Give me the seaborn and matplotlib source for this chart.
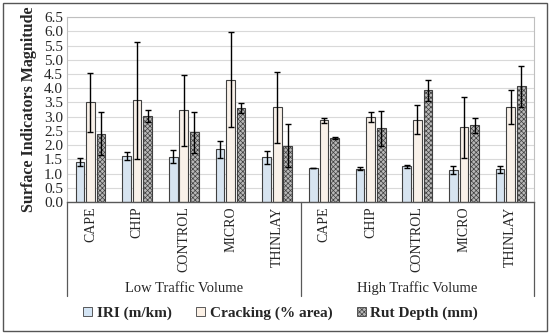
import pandas as pd
import seaborn as sns
import matplotlib.pyplot as plt
from matplotlib.patches import Patch, Rectangle

sns.set_style("white")
plt.rcParams['font.family'] = ['Liberation Serif', 'DejaVu Serif']
plt.rcParams['hatch.linewidth'] = 0.5
plt.rcParams['hatch.color'] = '#505050'

# Data
treatments = ["CAPE", "CHIP", "CONTROL", "MICRO", "THINLAY"]
volumes = ["Low Traffic Volume", "High Traffic Volume"]
metrics = ["IRI (m/km)", "Cracking (% area)", "Rut Depth (mm)"]

iri_mean = [1.40, 1.62, 1.60, 1.85, 1.57, 1.19, 1.17, 1.26, 1.14, 1.15]
iri_err = [0.15, 0.15, 0.22, 0.30, 0.22, 0.00, 0.05, 0.05, 0.14, 0.12]
crack_mean = [3.50, 3.57, 3.22, 4.30, 3.33, 2.87, 2.99, 2.90, 2.62, 3.35]
crack_err = [1.03, 2.07, 1.25, 1.68, 1.25, 0.08, 0.19, 0.52, 1.07, 0.60]
rut_mean = [2.40, 3.03, 2.45, 3.30, 1.98, 2.25, 2.59, 3.92, 2.69, 4.06]
rut_err = [0.75, 0.20, 0.73, 0.17, 0.75, 0.02, 0.61, 0.37, 0.26, 0.71]

keys = [f"{v}|{t}" for v in volumes for t in treatments]
rows = []
for m, means, errs in zip(metrics, [iri_mean, crack_mean, rut_mean], [iri_err, crack_err, rut_err]):
    for k, mu, e in zip(keys, means, errs):
        rows.append({"key": k, "metric": m, "value": mu, "err": e})
df = pd.DataFrame(rows)

colors = {"IRI (m/km)": "#d3e4f4", "Cracking (% area)": "#fcf1e6", "Rut Depth (mm)": "#b8b8b8"}

fig, ax = plt.subplots(figsize=(5.5, 3.34), dpi=100)
fig.subplots_adjust(left=0.122, right=0.971, top=0.949, bottom=0.395)

sns.barplot(data=df, x="key", y="value", hue="metric", order=keys, hue_order=metrics,
            palette=colors, width=0.68, gap=0.18, errorbar=None, edgecolor="#404040",
            linewidth=0.8, legend=False, ax=ax)

for cont, m in zip(ax.containers, metrics):
    sub = df[df.metric == m].set_index("key").loc[keys]
    xs = [b.get_x() + b.get_width() / 2 for b in cont]
    if m == "Rut Depth (mm)":
        for b in cont:
            b.set_hatch("xxxxxxx")
    ax.errorbar(xs, sub["value"].values, yerr=sub["err"].values, fmt="none",
                ecolor="black", elinewidth=1, capsize=2.2, capthick=1, zorder=5)

ax.set_ylim(0, 6.5)
ax.set_xlim(-0.5, len(keys) - 0.5)
ax.set_yticks([i * 0.5 for i in range(14)])
ax.set_yticklabels([f"{i * 0.5:.1f}" for i in range(14)], fontsize=11)
ax.yaxis.grid(True, color="#d9d9d9", linewidth=0.8)
ax.set_axisbelow(True)
ax.set_xticks(range(len(keys)))
ax.set_xticklabels([k.split("|")[1] for k in keys], rotation=90, fontsize=10)
ax.tick_params(axis="both", length=0, pad=3)
ax.set_xlabel("")
ax.set_ylabel("Surface Indicators Magnitude", fontsize=11.5, fontweight="bold", labelpad=5)
for s in ["top", "right", "left"]:
    ax.spines[s].set_color("#bfbfbf")
    ax.spines[s].set_linewidth(0.8)
ax.spines["bottom"].set_color("#595959")
ax.spines["bottom"].set_linewidth(1)

# group separators and labels
tr = ax.get_xaxis_transform()
for x in [-0.5, 4.5, 9.5]:
    ax.plot([x, x], [0, -0.505], transform=tr, clip_on=False, color="#595959", linewidth=0.9)
for i, v in enumerate(volumes):
    ax.text(2 + 5 * i, -0.465, v, transform=tr, ha="center", va="center", fontsize=10.5)

handles = [Patch(facecolor=colors[m], edgecolor="#404040", linewidth=0.6,
                 hatch="xxxxxxx" if m == "Rut Depth (mm)" else None) for m in metrics]
leg = fig.legend(handles, metrics, loc="center", bbox_to_anchor=(0.51, 0.062), ncol=3,
                 frameon=False, handlelength=0.6, handleheight=0.6, handletextpad=0.3,
                 columnspacing=1.6, prop={"weight": "bold", "size": 11})

fig.patches.append(Rectangle((0.006, 0.008), 0.988, 0.984, transform=fig.transFigure,
                             fill=False, edgecolor="#555555", linewidth=1))

fig.savefig("out.png", dpi=100)
